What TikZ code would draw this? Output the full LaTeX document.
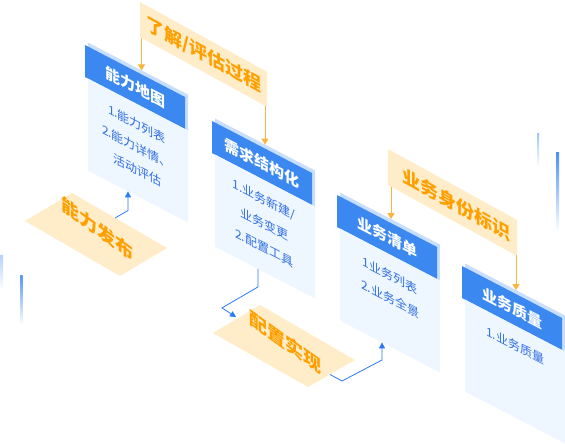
\documentclass[tikz,border=0pt]{standalone}
\usepackage{fontspec}
\setmainfont{Noto Sans CJK SC}
\usetikzlibrary{arrows.meta}

\definecolor{headblue}{HTML}{3B89F0}
\definecolor{plateblue}{HTML}{C8DEFF}
\definecolor{bodyblue}{HTML}{EEF6FF}
\definecolor{itemblue}{HTML}{2F6EE6}
\definecolor{linkblue}{HTML}{2B7BF2}
\definecolor{tagfill}{HTML}{FFECC8}
\definecolor{tagorange}{HTML}{FFA000}
\definecolor{tagarrow}{HTML}{F9B53C}

\begin{document}
\begin{tikzpicture}[x=1pt,y=-1pt,
  cardhead/.style={text=white,font=\bfseries\fontsize{15}{15}\selectfont,transform shape},
  carditem/.style={text=itemblue,font=\fontsize{12}{12}\selectfont,transform shape},
  tagword/.style={text=tagorange,font=\bfseries\fontsize{18}{18}\selectfont,transform shape},
  floorword/.style={text=tagorange,font=\bfseries\fontsize{18}{18}\selectfont,yslant=-0.72},
  droparrow/.style={draw=tagarrow,line width=1pt,-{Triangle[width=7pt,length=6pt]}},
  linkarrow/.style={draw=linkblue,line width=0.8pt,-{Triangle[width=6pt,length=6pt]}}]
      \useasboundingbox (0,0) rectangle (565,444);

      % faded bars
      \shade[top color=linkblue!35, bottom color=white] (0,255) rectangle (3,290);
      \shade[top color=linkblue!80, bottom color=white] (20,275) rectangle (22.5,325);
      \shade[top color=linkblue!45, bottom color=white] (537,133) rectangle (539,168);
      \shade[top color=linkblue!85, bottom color=white] (556,152) rectangle (559,232);

      % cards
      \begin{scope}[shift={(85,45)},yslant=-0.52]
        \fill[plateblue] (3,-4) rectangle (103,32);
        \fill[headblue] (0,0) rectangle (100,32);
        \fill[bodyblue] (3,32) rectangle (103,124);
        \node[cardhead] (map) at (50,16) {能力地图};
        \node[carditem] (map1) at (52,52) {1.能力列表};
        \node[carditem] (map2) at (52,75) {2.能力详情、};
        \node[carditem] (map3) at (52,98) {活动评估};
        \coordinate (maptop) at (56.5,-4);
        \coordinate (mapfoot) at (43,124);
      \end{scope}

      \begin{scope}[shift={(212,121)},yslant=-0.52]
        \fill[plateblue] (3,-4) rectangle (103,32);
        \fill[headblue] (0,0) rectangle (100,32);
        \fill[bodyblue] (3,32) rectangle (103,124);
        \node[cardhead] (req) at (50,16) {需求结构化};
        \node[carditem] (req1) at (52,52) {1.业务新建/};
        \node[carditem] (req2) at (52,76) {业务变更};
        \node[carditem] (req3) at (52,100) {2.配置工具};
        \coordinate (reqtop) at (53,-4);
        \coordinate (reqfoot) at (46,124);
      \end{scope}

      \begin{scope}[shift={(337,195)},yslant=-0.52]
        \fill[plateblue] (3,-4) rectangle (103,32);
        \fill[headblue] (0,0) rectangle (100,32);
        \fill[bodyblue] (3,32) rectangle (103,124);
        \node[cardhead] (list) at (50,16) {业务清单};
        \node[carditem] (list1) at (53,53) {1业务列表};
        \node[carditem] (list2) at (53,76) {2.业务全景};
        \coordinate (listtop) at (54,-4);
        \coordinate (listfoot) at (45,124);
      \end{scope}

      \begin{scope}[shift={(462,266)},yslant=-0.52]
        \fill[plateblue] (3,-4) rectangle (103,32);
        \fill[headblue] (0,0) rectangle (100,32);
        \fill[bodyblue] (3,32) rectangle (103,124);
        \node[cardhead] (quality) at (50,16) {业务质量};
        \node[carditem] (quality1) at (53,52) {1.业务质量};
        \coordinate (qualitytop) at (54,-4);
      \end{scope}

      % hanging tags
      \begin{scope}[shift={(140,2)},yslant=-0.55]
        \fill[tagfill] (0,0) rectangle (127,35);
        \node[tagword] (know) at (64,17.5) {了解/评估过程};
        \coordinate (knowa) at (1.5,35);
        \coordinate (knowb) at (125,35);
      \end{scope}

      \begin{scope}[shift={(388,149)},yslant=-0.55]
        \fill[tagfill] (0,0) rectangle (129,36);
        \node[tagword] (ident) at (68,18) {业务身份标识};
        \coordinate (identa) at (3,36);
        \coordinate (identb) at (128,36);
      \end{scope}

      \draw[droparrow] (knowa) -- (knowa |- maptop);
      \draw[droparrow] (knowb) -- (knowb |- reqtop);
      \draw[droparrow] (identa) -- (identa |- listtop);
      \draw[droparrow] (identb) -- (identb |- qualitytop);

      % floor tags
      \fill[tagfill] (25,221) -- (72,193) -- (167,248) -- (120,276) -- cycle;
      \node[floorword] (publish) at (97,229) {能力发布};
      \coordinate (pubout) at (115,218);

      \fill[tagfill] (213,333) -- (260,305) -- (355,360) -- (308,387) -- cycle;
      \node[floorword] (config) at (285,342) {配置实现};
      \coordinate (cfgin) at (236,317);
      \coordinate (cfgout) at (330,374.5);

      \draw[linkarrow] (pubout) -- ++(13,-7.5) -- (mapfoot);
      \draw[linkarrow] (reqfoot) -- ++(0,18) -- ++(-36,21) -- (cfgin);
      \draw[linkarrow] (cfgout) -- ++(12,6.5) -- ++(40,-21) -- (listfoot);
    \end{tikzpicture}
\end{document}
